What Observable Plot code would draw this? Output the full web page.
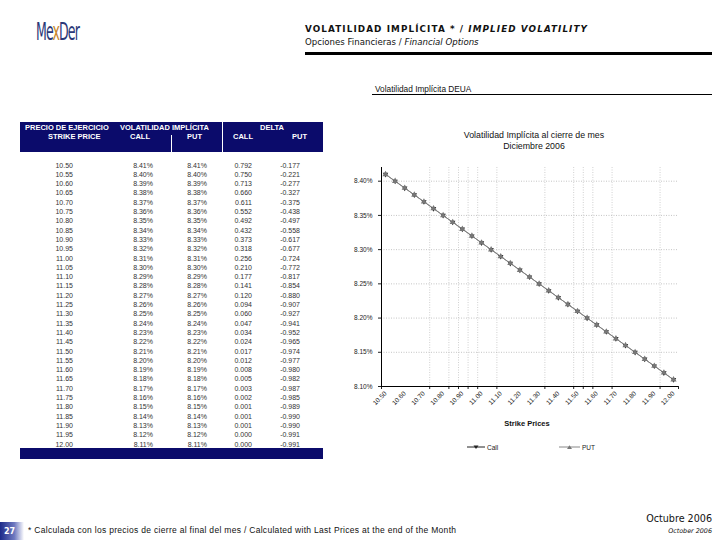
<!DOCTYPE html>
<html><head><meta charset="utf-8">
<script src="https://cdn.jsdelivr.net/npm/d3@7"></script>
<script src="https://cdn.jsdelivr.net/npm/@observablehq/plot@0.6"></script>
<style>
body{margin:0;width:720px;height:540px;position:relative;background:#fff;font-family:"Liberation Sans",Arial,sans-serif;overflow:hidden}
.abs{position:absolute;white-space:nowrap}
.cell{font-size:7px;line-height:9px;color:#333}
.hd{color:#fff;font-weight:bold;font-size:7.5px;line-height:8px}
</style></head><body>
<script>
// ---- data ----
const strikes = [10.50,10.55,10.60,10.65,10.70,10.75,10.80,10.85,10.90,10.95,11.00,11.05,11.10,11.15,11.20,11.25,11.30,11.35,11.40,11.45,11.50,11.55,11.60,11.65,11.70,11.75,11.80,11.85,11.90,11.95,12.00];
const volCall = [8.41,8.40,8.39,8.38,8.37,8.36,8.35,8.34,8.33,8.32,8.31,8.30,8.29,8.28,8.27,8.26,8.25,8.24,8.23,8.22,8.21,8.20,8.19,8.18,8.17,8.16,8.15,8.14,8.13,8.12,8.11];
const volPut  = [8.41,8.40,8.39,8.38,8.37,8.36,8.35,8.34,8.33,8.32,8.31,8.30,8.29,8.28,8.27,8.26,8.25,8.24,8.23,8.22,8.21,8.20,8.19,8.18,8.17,8.16,8.15,8.14,8.13,8.12,8.11];
const deltaCall = [0.792,0.750,0.713,0.660,0.611,0.552,0.492,0.432,0.373,0.318,0.256,0.210,0.177,0.141,0.120,0.094,0.060,0.047,0.034,0.024,0.017,0.012,0.008,0.005,0.003,0.002,0.001,0.001,0.001,0.000,0.000];
const deltaPut  = [-0.177,-0.221,-0.277,-0.327,-0.375,-0.438,-0.497,-0.558,-0.617,-0.677,-0.724,-0.772,-0.817,-0.854,-0.880,-0.907,-0.927,-0.941,-0.952,-0.965,-0.974,-0.977,-0.980,-0.982,-0.987,-0.985,-0.989,-0.990,-0.990,-0.991,-0.991];
const xLabels = [10.50,10.60,10.70,10.80,10.90,11.00,11.10,11.20,11.30,11.40,11.50,11.60,11.70,11.80,11.90,12.00];
const yTicks = [8.10,8.15,8.20,8.25,8.30,8.35,8.40];
const gridStrikes = [10.73,10.83,10.88,10.93,10.98,11.08,11.33,11.48,11.53,11.58,11.68,11.93];
</script>

<div class="abs" style="left:36px;top:18px;font-family:'DejaVu Sans Condensed','DejaVu Sans';font-size:24px;color:#2b3878;letter-spacing:-1.5px;transform:scaleX(0.58);transform-origin:left">Me<span style="color:#c8862a">x</span>Der</div>

<div class="abs" style="left:305px;top:24px;font-family:'DejaVu Sans';font-size:8.8px;font-weight:bold;color:#111;letter-spacing:1.1px">VOLATILIDAD IMPLÍCITA * / <i>IMPLIED VOLATILITY</i></div>
<div class="abs" style="left:305px;top:37px;font-family:'DejaVu Sans';font-size:8.6px;color:#111">Opciones Financieras / <i>Financial Options</i></div>
<div class="abs" style="left:305px;top:52px;width:407px;height:3px;background:#000"></div>

<div class="abs" style="left:375px;top:84px;font-size:8.3px;color:#111">Volatilidad Implícita DEUA</div>
<div class="abs" style="left:372px;top:94px;width:340px;height:1px;background:#000"></div>

<!-- table header -->
<div class="abs" style="left:20px;top:122px;width:303px;height:30px;background:#0b0b6b"></div>
<div class="abs" style="left:171px;top:135px;width:1px;height:17px;background:#fff"></div>
<div class="abs" style="left:222px;top:122px;width:1px;height:30px;background:#fff"></div>
<div class="abs hd" style="left:25px;top:124px">PRECIO DE EJERCICIO</div>
<div class="abs hd" style="left:120px;top:124px">VOLATILIDAD IMPLÍCITA</div>
<div class="abs hd" style="left:260px;top:124px">DELTA</div>
<div class="abs hd" style="left:48px;top:132.5px">STRIKE PRICE</div>
<div class="abs hd" style="left:130px;top:132.5px">CALL</div>
<div class="abs hd" style="left:187px;top:132.5px">PUT</div>
<div class="abs hd" style="left:233px;top:132.5px">CALL</div>
<div class="abs hd" style="left:292px;top:132.5px">PUT</div>
<div class="abs" style="left:20px;top:448px;width:303px;height:11px;background:#0b0b6b"></div>

<!-- chart titles -->
<div class="abs" style="left:434px;width:200px;top:130px;text-align:center;font-size:8.8px;line-height:11px;color:#111">Volatilidad Implícita al cierre de mes<br>Diciembre 2006</div>
<div id="chart" class="abs" style="left:340px;top:160px"></div>
<div class="abs" style="left:477px;width:100px;top:419px;text-align:center;font-size:7.5px;font-weight:bold;color:#111">Strike Prices</div>
<div class="abs" style="left:465px;top:438px">
<svg width="140" height="10">
 <line x1="2" x2="20" y1="5" y2="5" stroke="#222" stroke-width="1"/>
 <path d="M8.5,3.5 L13.5,3.5 L11,7 Z" fill="#222"/>
 <text x="22" y="7.5" font-size="6.5" fill="#222">Call</text>
 <line x1="94" x2="115" y1="5" y2="5" stroke="#888" stroke-width="1"/>
 <path d="M102,7 L107,7 L104.5,3.2 Z" fill="#777"/>
 <text x="117" y="7.5" font-size="6.5" fill="#222">PUT</text>
</svg></div>

<!-- footer -->
<div class="abs" style="left:0px;top:522px;width:24px;height:18px;background:linear-gradient(to right,#1c2a8a,#6f7ac0 60%,#fff)"></div>
<div class="abs" style="left:4px;top:527px;font-family:'DejaVu Sans';font-size:8px;font-weight:bold;color:#fff">27</div>
<div class="abs" style="left:28px;top:525px;font-size:8.5px;letter-spacing:0.3px;color:#111">* Calculada con los precios de cierre al final del mes / Calculated with Last Prices at the end of the Month</div>
<div class="abs" style="right:8px;top:513px;font-family:'DejaVu Sans';font-size:9.6px;color:#111">Octubre 2006</div>
<div class="abs" style="right:8px;top:527px;font-family:'DejaVu Sans';font-size:6.4px;font-style:italic;color:#111">October 2006</div>

<script>
// table body
strikes.forEach((s, i) => {
  const top = 160.5 + i * 9.3;
  const cells = [
    [s.toFixed(2), 73],
    [volCall[i].toFixed(2) + "%", 153],
    [volPut[i].toFixed(2) + "%", 207],
    [deltaCall[i].toFixed(3), 252],
    [deltaPut[i].toFixed(3), 300]
  ];
  cells.forEach(([t, r]) => {
    const d = document.createElement("div");
    d.className = "abs cell";
    d.style.top = top + "px";
    d.style.right = (720 - r) + "px";
    d.textContent = t;
    document.body.appendChild(d);
  });
});

const data = strikes.map((s, i) => ({strike: s, call: volCall[i], put: volPut[i]}));
const x0 = 10.479, x1 = 12.026;
const chart = Plot.plot({
  width: 360, height: 265,
  marginLeft: 41, marginRight: 22, marginTop: 7, marginBottom: 39,
  style: {fontFamily: "Liberation Sans, Arial, sans-serif", fontSize: "6.5px", color: "#222", background: "transparent"},
  x: {domain: [x0, x1]},
  y: {domain: [8.10, 8.42]},
  marks: [
    Plot.gridY(yTicks.slice(1), {stroke: "#aaa", strokeOpacity: 1, strokeDasharray: "1,1.5", strokeWidth: 0.7}),
    Plot.gridX(gridStrikes, {stroke: "#bbb", strokeOpacity: 1, strokeDasharray: "1,1.5", strokeWidth: 0.7}),
    Plot.axisY(yTicks, {tickSize: 3, tickPadding: 6, tickFormat: d => d.toFixed(2) + "%", label: null}),
    Plot.axisX(xLabels, {tickSize: 0, tickPadding: 6, tickRotate: -45, tickFormat: d => d.toFixed(2), label: null}),
    Plot.axisX(gridStrikes.concat([x0, x1]), {tickSize: 3, tickFormat: () => "", label: null}),
    Plot.ruleX([x0], {stroke: "#000"}),
    Plot.ruleY([8.10], {stroke: "#000"}),
    Plot.line(data, {x: "strike", y: "call", stroke: "#222", strokeWidth: 0.7}),
    Plot.dot(data, {x: "strike", y: "call", symbol: "triangle", rotate: 180, r: 2, fill: "#222"}),
    Plot.line(data, {x: "strike", y: "put", stroke: "#888", strokeWidth: 0.8}),
    Plot.dot(data, {x: "strike", y: "put", symbol: "triangle", r: 2.3, fill: "#777"})
  ]
});
document.getElementById("chart").appendChild(chart);
</script>
</body></html>
